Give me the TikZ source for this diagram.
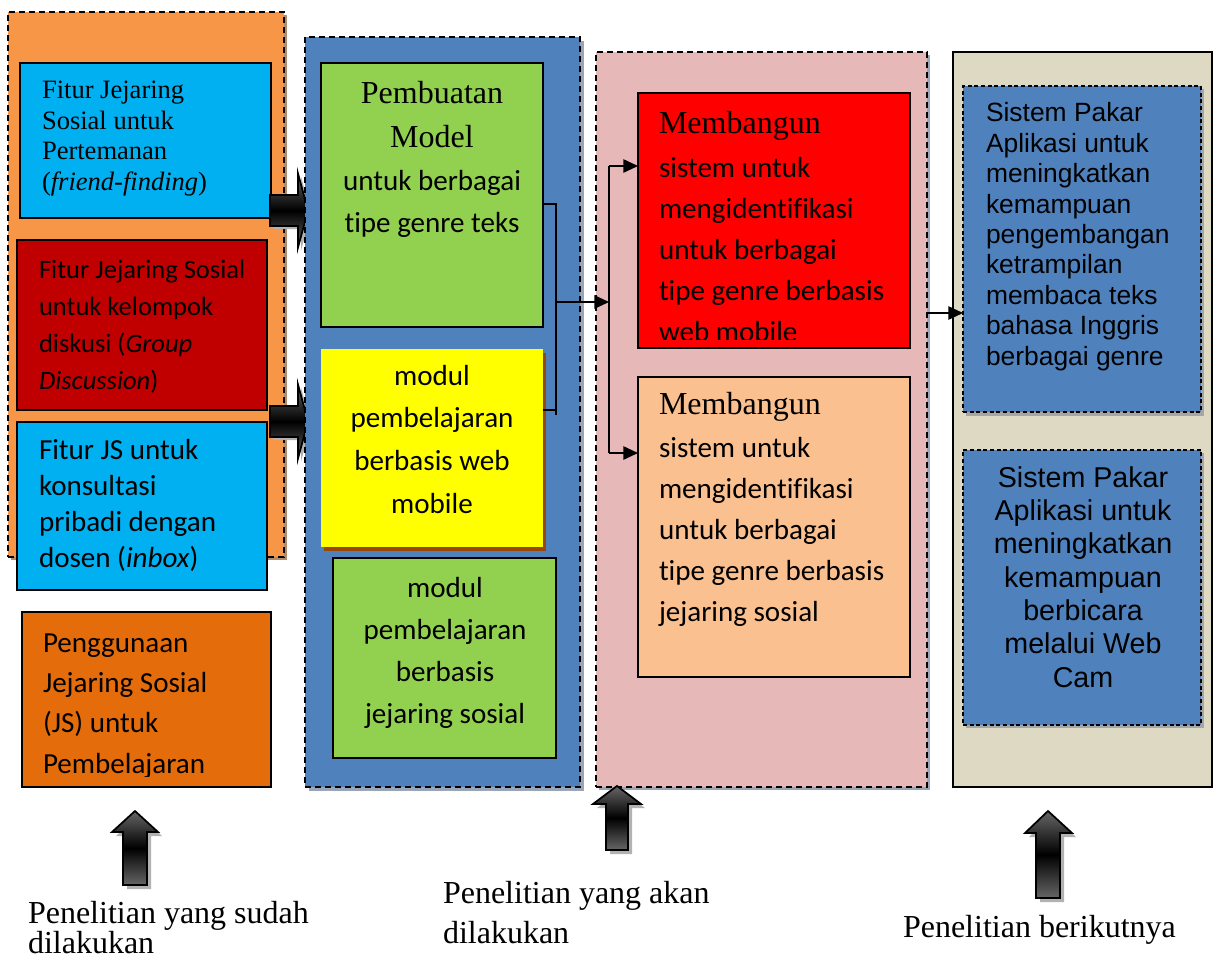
\documentclass[tikz,border=0pt]{standalone}
\usepackage{fontspec}
\setmainfont{Liberation Serif}
\newfontfamily\carl[Ligatures=NoCommon]{Carlito}
\newfontfamily\arl{Liberation Sans}
\usetikzlibrary{arrows.meta,fit}
\definecolor{orpanel}{HTML}{F79646}
\definecolor{cyanbox}{HTML}{00B0F0}
\definecolor{darkredbox}{HTML}{C00000}
\definecolor{orbox}{HTML}{E46C0A}
\definecolor{bluepanel}{HTML}{4F81BD}
\definecolor{greenbox}{HTML}{92D050}
\definecolor{yellowbox}{HTML}{FFFF00}
\definecolor{redbox}{HTML}{FF0000}
\definecolor{pinkpanel}{HTML}{E6B9B8}
\definecolor{peachbox}{HTML}{FAC090}
\definecolor{beigepanel}{HTML}{DDD9C3}
\definecolor{brownshadow}{HTML}{984806}
\definecolor{blueshadow}{HTML}{9AA6B8}
\definecolor{orshadow}{HTML}{B08A6A}
\tikzset{
  panelbox/.style={inner sep=0pt, outer sep=0pt, draw=black, line width=1.5pt, dash pattern=on 4.5pt off 3pt},
  solidbox/.style={inner sep=0pt, outer sep=0pt, draw=black, line width=1.2pt},
  dashbox/.style={inner sep=0pt, outer sep=0pt, draw=black, line width=0.9pt, dash pattern=on 3pt off 2pt},
  txt/.style={inner sep=0pt, outer sep=0pt},
  conn/.style={draw=black, line width=1.3pt},
  arr/.style={conn, -{Triangle[length=11pt,width=10pt]}},
  fatarrow/.style={draw=black, line width=1.3pt, line join=miter, top color=gray!80!black, bottom color=gray!80!black, middle color=black},
  fatshadow/.style={fill=gray!60, draw=none},
}
\begin{document}
% note: multi-line text nodes are placed by the baseline of their LAST line
\begin{tikzpicture}[x=0.75pt,y=-0.75pt]
\useasboundingbox[fill=white] (0,0) rectangle (1217,961);

% ---------------- column 1 ----------------
\fill[orshadow] (11,15) rectangle (287,560);
\node[panelbox, fill=orpanel, fit={(8,12)(284,557)}] (pnl1) {};
\node[solidbox, fill=cyanbox, fit={(20,63)(271,218)}] (b11) {};
\node[txt, anchor=base west, align=left, font=\fontsize{19.9}{22.8}\selectfont] (t11) at (42,190)
  {Fitur Jejaring\\Sosial untuk\\Pertemanan\\(\textit{friend-finding})};
\node[solidbox, fill=darkredbox, fit={(17,240)(267,410)}] (b12) {};
\node[txt, anchor=base west, align=left, font=\carl\fontsize{19.9}{27.9}\selectfont] (t12) at (39,389.6)
  {Fitur Jejaring Sosial\\untuk kelompok\\diskusi (\textit{Group}\\\textit{Discussion})};
\node[solidbox, fill=cyanbox, fit={(17,422)(267,590)}] (b13) {};
\node[txt, anchor=base west, align=left, font=\carl\fontsize{21.8}{26.8}\selectfont] (t13) at (39,567)
  {Fitur JS untuk\\konsultasi\\pribadi dengan\\dosen (\textit{inbox})};
\node[solidbox, fill=orbox, fit={(22,612)(271,787)}] (b14) {};
\begin{scope}
  \clip (22,612) rectangle (271,776);
  \node[txt, anchor=base west, align=left, font=\carl\fontsize{21.8}{30.2}\selectfont] (t14) at (43,773)
    {Penggunaan\\Jejaring Sosial\\(JS) untuk\\Pembelajaran};
\end{scope}

% fat arrows column 1 -> column 2
\path[fatshadow] (273,198) -- (301,198) -- (301,176.5) -- (311,213.5) -- (301,250.5) -- (301,229) -- (273,229) -- cycle;
\path[fatarrow] (270,195) -- (298,195) -- (298,173.5) -- (308,210.5) -- (298,247.5) -- (298,226) -- (270,226) -- cycle;
\path[fatshadow] (273,409) -- (301,409) -- (301,387.5) -- (311,424.5) -- (301,461.5) -- (301,440) -- (273,440) -- cycle;
\path[fatarrow] (270,406) -- (298,406) -- (298,384.5) -- (308,421.5) -- (298,458.5) -- (298,437) -- (270,437) -- cycle;

% ---------------- column 2 ----------------
\fill[blueshadow] (309,41) rectangle (584,791);
\node[panelbox, fill=bluepanel, fit={(305,37)(580,787)}] (pnl2) {};
\node[solidbox, fill=greenbox, fit={(321,63)(543,327)}] (g21) {};
\node[txt, anchor=base, align=center, font=\fontsize{24}{33}\selectfont] (tm21) at (432,147) {Pembuatan\\Model};
\node[txt, anchor=base, align=center, font=\carl\fontsize{21.8}{31.5}\selectfont] (tu21) at (432,232) {untuk berbagai\\tipe genre teks};
\fill[brownshadow] (324,353) rectangle (546,551);
\node[inner sep=0pt, outer sep=0pt, fill=yellowbox, fit={(321,349)(543,547)}] (y22) {};
\node[txt, anchor=base, align=center, font=\carl\fontsize{21.8}{32}\selectfont] (t22) at (432,513)
  {modul\\pembelajaran\\berbasis web\\mobile};
\node[solidbox, fill=greenbox, fit={(333,558)(556,758)}] (g23) {};
\node[txt, anchor=base, align=center, font=\carl\fontsize{21.8}{31.5}\selectfont] (t23) at (445,723)
  {modul\\pembelajaran\\berbasis\\jejaring sosial};

% bracket connector
\coordinate (brtop) at (556,204);
\coordinate (brbot) at (556,415);
\coordinate (bryel) at (556,410);
\coordinate (brmid) at (556,302);
\coordinate (spl) at (609,302);
\coordinate (spltop) at (609,166);
\coordinate (splbot) at (609,453);
\draw[conn] (g21.east |- brtop) -- (brtop) -- (brbot);
\draw[conn] (y22.east |- bryel) -- (bryel);

% ---------------- column 3 ----------------
\fill[blueshadow] (927,55) rectangle (930,790);
\fill[blueshadow] (599,787) rectangle (930,790);
\node[panelbox, fill=pinkpanel, fit={(596,52)(927,787)}] (pnl3) {};
\node[solidbox, fill=redbox, fit={(638,93)(910,348)}] (r31) {};
\node[txt, anchor=base west, font=\fontsize{24}{30}\selectfont] (tm31) at (659,133) {Membangun};
\begin{scope}
  \clip (638,93) rectangle (910,339);
  \node[txt, anchor=base west, align=left, font=\carl\fontsize{21.8}{30.75}\selectfont] (ts31) at (659,341)
    {sistem untuk\\mengidentifikasi\\untuk berbagai\\tipe genre berbasis\\web mobile};
\end{scope}
\node[solidbox, fill=peachbox, fit={(638,377)(910,677)}] (p32) {};
\node[txt, anchor=base west, font=\fontsize{24}{30}\selectfont] (tm32) at (659,414) {Membangun};
\node[txt, anchor=base west, align=left, font=\carl\fontsize{21.8}{30.75}\selectfont] (ts32) at (659,621)
  {sistem untuk\\mengidentifikasi\\untuk berbagai\\tipe genre berbasis\\jejaring sosial};

\draw[arr] (brmid) -- (spl);
\draw[conn] (spltop) -- (splbot);
\draw[arr] (spltop) -- (r31.west |- spltop);
\draw[arr] (splbot) -- (p32.west |- splbot);

% ---------------- column 4 ----------------
\node[inner sep=0pt, outer sep=0pt, draw=black, line width=1.1pt, fill=beigepanel, fit={(953,52)(1212,787)}] (pnl4) {};
\fill[gray!70] (966,89) rectangle (1204,416);
\node[dashbox, fill=bluepanel, fit={(963,86)(1201,412)}] (bb41) {};
\node[txt, anchor=base west, align=left, font=\arl\fontsize{19.8}{22.8}\selectfont] (t41) at (986,365)
  {Sistem Pakar\\Aplikasi untuk\\meningkatkan\\kemampuan\\pengembangan\\ketrampilan\\membaca teks\\bahasa Inggris\\berbagai genre};
\fill[gray!70] (966,453) rectangle (1204,728);
\node[dashbox, fill=bluepanel, fit={(963,450)(1201,725)}] (bb42) {};
\node[txt, anchor=base, align=center, font=\arl\fontsize{21.5}{25}\selectfont] (t42) at (1083,687)
  {Sistem Pakar\\Aplikasi untuk\\meningkatkan\\kemampuan\\berbicara\\melalui Web\\Cam};
\coordinate (c34) at (927,313);
\draw[arr] (c34) -- (bb41.west |- c34);

% ---------------- bottom arrows ----------------
\path[fatshadow] (139,815) -- (162,836) -- (151,836) -- (151,889) -- (127,889) -- (127,836) -- (116,836) -- cycle;
\path[fatarrow] (135,811) -- (158,832) -- (147,832) -- (147,885) -- (123,885) -- (123,832) -- (112,832) -- cycle;
\path[fatshadow] (621,790) -- (645,808) -- (632,808) -- (632,854) -- (610,854) -- (610,808) -- (597,808) -- cycle;
\path[fatarrow] (617,786) -- (641,804) -- (628,804) -- (628,850) -- (606,850) -- (606,804) -- (593,804) -- cycle;
\path[fatshadow] (1052,815) -- (1076,837) -- (1064,837) -- (1064,902) -- (1040,902) -- (1040,837) -- (1029,837) -- cycle;
\path[fatarrow] (1048,811) -- (1072,833) -- (1060,833) -- (1060,898) -- (1036,898) -- (1036,833) -- (1025,833) -- cycle;

% ---------------- labels ----------------
\node[txt, anchor=base west, align=left, font=\fontsize{24}{22.5}\selectfont] (lab1) at (28,953)
  {Penelitian yang sudah\\dilakukan};
\node[txt, anchor=base west, align=left, font=\fontsize{24}{30}\selectfont] (lab2) at (443,943)
  {Penelitian yang akan\\dilakukan};
\node[txt, anchor=base west, font=\fontsize{24}{30}\selectfont] (lab3) at (903,937)
  {Penelitian berikutnya};
\end{tikzpicture}
\end{document}
